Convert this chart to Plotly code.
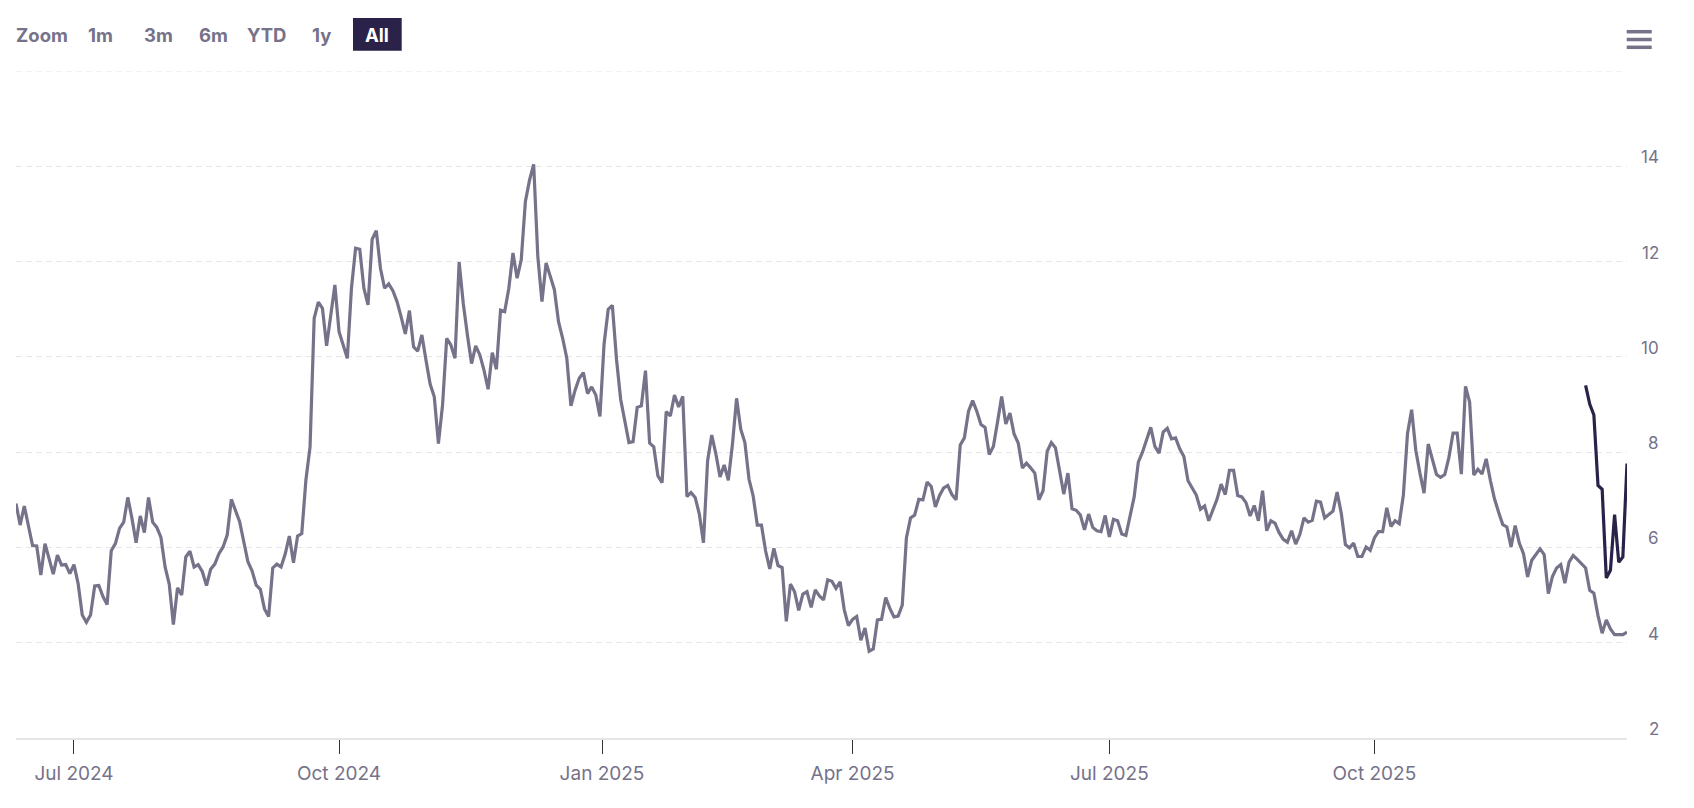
import pandas as pd
import plotly.graph_objects as go

HOLIDAYS = ["2024-06-19", "2024-07-04", "2024-09-02", "2024-11-28", "2024-12-25", "2025-01-01",
            "2025-01-09", "2025-01-20", "2025-02-17", "2025-04-18", "2025-05-26", "2025-06-19",
            "2025-07-04", "2025-09-01", "2025-11-27", "2025-12-25"]

gray_2024_a = [6.92, 6.47, 6.87, 6.47, 6.04, 6.03, 5.42, 6.08, 5.77, 5.44, 5.84, 5.63, 5.64, 5.45, 5.64,
               5.24, 4.58, 4.43, 4.58, 5.19, 5.20, 4.97, 4.80, 5.93, 6.08, 6.40, 6.53, 7.05, 6.61, 6.10,
               6.66, 6.31, 7.05, 6.53, 6.42, 6.21, 5.59, 5.23, 4.38, 5.15, 5.00, 5.80, 5.92, 5.59, 5.64,
               5.49, 5.20, 5.54, 5.65, 5.87, 6.01, 6.26, 7.01, 6.77, 6.54, 6.12, 5.70, 5.51, 5.21, 5.12,
               4.71, 4.55, 5.57, 5.65, 5.59, 5.86, 6.24, 5.68, 6.24, 6.29, 7.41]
gray_2024_b = [8.11, 10.81, 11.15, 11.02, 10.23, 10.84, 11.51, 10.53, 10.25, 9.97, 11.44, 12.28, 12.26,
               11.44, 11.09, 12.47, 12.65, 11.86, 11.44, 11.53, 11.39, 11.16, 10.84, 10.48, 10.97, 10.21,
               10.12, 10.46, 9.93, 9.43, 9.16, 8.18, 8.99, 10.39, 10.25, 9.97, 11.99, 11.12, 10.46, 9.86,
               10.23, 10.04, 9.72, 9.32, 10.09, 9.74, 10.98, 10.95, 11.44, 12.18, 11.65, 12.04, 13.26,
               13.71, 14.04, 12.11, 11.16, 11.97, 11.69, 11.41, 10.74, 10.39, 9.97, 8.97, 9.30, 9.55,
               9.67, 9.23, 9.37, 9.20, 8.75]
gray_2025_a = [10.27, 11.00, 11.08, 9.95, 9.11, 8.66, 8.20, 8.22, 8.94, 8.97, 9.71, 8.19, 8.11, 7.50, 7.36,
               8.85, 8.76, 9.20, 8.95, 9.17, 7.07, 7.15, 7.05, 6.70, 6.10, 7.82, 8.36, 7.96, 7.48, 7.73,
               7.41, 8.17, 9.13, 8.48, 8.20, 7.43, 7.08, 6.47, 6.47, 5.93, 5.55, 5.98, 5.62, 5.58]
gray_2025_b = [4.45, 5.23, 5.07, 4.68, 5.02, 5.07, 4.74, 5.11, 4.98, 4.90, 5.32, 5.29, 5.14, 5.28, 4.69,
               4.36, 4.49, 4.55, 4.05, 4.31, 3.82, 3.87, 4.48, 4.49, 4.95, 4.72, 4.54, 4.56, 4.79, 6.20,
               6.62, 6.68, 7.01, 7.00, 7.37, 7.28, 6.85, 7.09, 7.25, 7.30, 7.11, 7.00, 8.15, 8.30, 8.86,
               9.08, 8.86, 8.58, 8.52, 7.95, 8.12, 8.63, 9.17, 8.59, 8.82, 8.38, 8.19, 7.67, 7.77, 7.67,
               7.56, 7.00]
gray_2025_c = [7.19, 8.02, 8.20, 8.09, 7.58, 7.12, 7.56, 6.81, 6.78, 6.68, 6.37, 6.70, 6.42, 6.35, 6.33,
               6.67, 6.22, 6.59, 6.56, 6.28, 6.25, 6.65, 7.06, 7.79, 8.00, 8.26, 8.52, 8.12, 7.98, 8.42,
               8.50, 8.28, 8.30, 8.07, 7.91, 7.40, 7.24, 7.10, 6.80, 6.87, 6.56, 6.77, 7.01, 7.33, 7.11,
               7.62, 7.62, 7.09, 7.06, 6.94, 6.66, 6.88, 6.56, 7.19, 6.35, 6.56, 6.51, 6.31, 6.17, 6.11,
               6.35, 6.07]
gray_2025_d = [6.27, 6.62, 6.53, 6.57, 6.97, 6.95, 6.62, 6.69, 6.76, 7.16, 6.72, 6.06, 5.99, 6.09, 5.81,
               5.81, 6.01, 5.94, 6.20, 6.33, 6.33, 6.83, 6.44, 6.56, 6.50, 7.10, 8.39, 8.89, 8.04, 7.56,
               7.14, 8.17, 7.83, 7.53, 7.47, 7.53, 7.89, 8.40, 8.40, 7.54]
gray_2025_e = [9.38, 9.05, 7.52, 7.64, 7.54, 7.86, 7.41, 7.02, 6.74, 6.48, 6.43, 6.01, 6.46, 6.09, 5.87,
               5.38, 5.73, 5.85, 5.97, 5.85, 5.03, 5.39, 5.57, 5.64, 5.25, 5.69, 5.83, 5.75, 5.67, 5.57,
               5.10, 5.04, 4.57, 4.20, 4.48, 4.29, 4.17, 4.17, 4.17, 4.22]
dark_values = [9.40, 9.01, 8.78, 7.30, 7.22, 5.36, 5.52, 6.69, 5.69, 5.80, 7.76]

x_ticks = ["2024-07-01", "2024-10-01", "2024-12-31 12:00", "2025-04-01", "2025-07-01", "2025-10-01"]
x_labels = ["Jul 2024", "Oct 2024", "Jan 2025", "Apr 2025", "Jul 2025", "Oct 2025"]
y_ticks = [2, 4, 6, 8, 10, 12, 14]
y_labels = [2, 4, 6, 8, 10, 12, 14]
y_top = 16
buttons = [("Zoom", 42), ("1m", 100), ("3m", 158), ("6m", 213.5), ("YTD", 266), ("1y", 321.5)]

gray_values = gray_2024_a + gray_2024_b + gray_2025_a + gray_2025_b + gray_2025_c + gray_2025_d + gray_2025_e
dates = pd.bdate_range("2024-06-10", periods=len(gray_values), freq="C", holidays=HOLIDAYS)

W, H = 1694, 808
L, R, T, B = 16, 1627, 71, 738
GRAY = "#757289"
DARK = "#2a2249"
GRID = "#e6e6e6"
FONT = "Inter"


def px(x):
    return (x - L) / (R - L)


def py(y):
    return (B - y) / (B - T)


fig = go.Figure()
fig.add_trace(go.Scatter(x=dates, y=gray_values, mode="lines", line=dict(color=GRAY, width=3.2),
                         hoverinfo="skip", showlegend=False))
fig.add_trace(go.Scatter(x=dates[-len(dark_values):], y=dark_values, mode="lines",
                         line=dict(color=DARK, width=3.2), hoverinfo="skip", showlegend=False))

annotations = []
for v in y_labels:
    annotations.append(dict(xref="paper", yref="y", x=px(1661), y=v, yshift=9, text=str(v), showarrow=False,
                            xanchor="right", yanchor="middle", font=dict(family=FONT, size=17, color=GRAY)))
for text, cx in buttons:
    annotations.append(dict(xref="paper", yref="paper", x=px(cx), y=py(34.7), text=text, showarrow=False,
                            xanchor="center", yanchor="middle",
                            font=dict(family=FONT, size=18.5, color=GRAY, weight=700)))
annotations.append(dict(xref="paper", yref="paper", x=px(377), y=py(34.7), text="All", showarrow=False,
                        xanchor="center", yanchor="middle",
                        font=dict(family=FONT, size=18.5, color="#ffffff", weight=700)))

shapes = [dict(type="rect", xref="paper", yref="paper", x0=px(353), x1=px(401.7), y0=py(18), y1=py(50.7),
               fillcolor=DARK, line=dict(width=0)),
          dict(type="line", xref="paper", yref="y", x0=0, x1=1, y0=y_top, y1=y_top,
               line=dict(color=GRID, width=1, dash="6px,4px"))]
for y in (31.7, 39.5, 47.3):
    shapes.append(dict(type="line", xref="paper", yref="paper", x0=px(1626.7), x1=px(1651.7), y0=py(y), y1=py(y),
                       line=dict(color=GRAY, width=3.5)))

fig.update_layout(
    width=W, height=H, autosize=False,
    margin=dict(l=L, r=W - R, t=T, b=H - B, pad=0),
    paper_bgcolor="#ffffff", plot_bgcolor="#ffffff",
    showlegend=False, annotations=annotations, shapes=shapes,
    xaxis=dict(type="date", range=[dates[0], dates[-1]],
               rangebreaks=[dict(bounds=["sat", "mon"]), dict(values=HOLIDAYS)],
               tickmode="array", tickvals=x_ticks, ticktext=x_labels,
               ticks="outside", ticklen=14, tickcolor="#333333", tickwidth=1.2,
               showgrid=False, showline=True, linecolor=GRID, linewidth=2, zeroline=False,
               tickfont=dict(family=FONT, size=19, color=GRAY), ticklabelstandoff=3),
    yaxis=dict(range=[2, y_top], tickmode="array", tickvals=y_ticks, showticklabels=False,
               showgrid=True, gridcolor=GRID, griddash="6px,4px", gridwidth=1,
               zeroline=False, showline=False, ticks=""),
)

fig.write_html("out.html", config={"displayModeBar": False},
               post_script="document.body.style.margin='0';document.body.style.overflow='hidden';")
